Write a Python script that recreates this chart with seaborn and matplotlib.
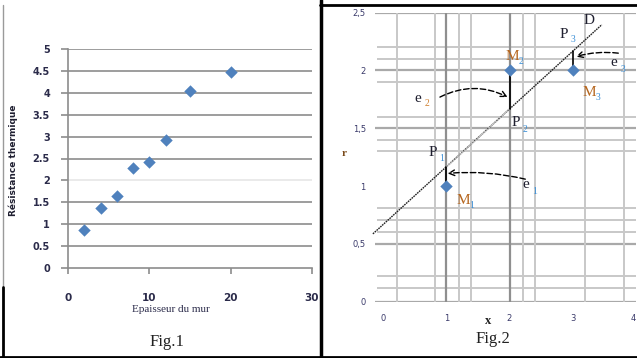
import numpy as np
import pandas as pd
import matplotlib
matplotlib.use("Agg")
import matplotlib.pyplot as plt
from matplotlib.lines import Line2D
import seaborn as sns

# ---- data -------------------------------------------------------------
thickness = [2, 4, 6, 8, 10, 12, 15, 20]
resistance = [0.87, 1.37, 1.65, 2.28, 2.43, 2.93, 4.05, 4.48]
fig1_yticks = [0, 0.5, 1, 1.5, 2, 2.5, 3, 3.5, 4, 4.5, 5]
fig1_xticks = [0, 10, 20, 30]

x_pts = [1, 2, 3]
r_pts = [1, 2, 2]
point_names = ["1", "2", "3"]
fig2_xticks = [0, 1, 2, 3, 4]
fig2_yticks = [0, 0.5, 1, 1.5, 2, 2.5]
fig2_yticklabels = ["0", "0,5", "1", "1,5", "2", "2,5"]

# hand-drawn grid of Fig.2
grid_major_y = [0, 0.5, 1.5, 2, 2.5]
grid_minor_y = [0.12, 0.22, 0.60, 0.71, 0.81, 1.30, 1.40, 1.60, 1.90, 2.10, 2.20]
grid_major_x = [1, 2]
grid_minor_x = [0.22, 0.82, 1.20, 1.39, 2.21, 2.41, 3.20, 3.81]

# ---- figure -----------------------------------------------------------
sns.set_style("white")
W, H = 637, 358
fig = plt.figure(figsize=(W / 100, H / 100), dpi=100)
fig.patch.set_facecolor("white")


def fx(px):
    return px / W


def fy(py):
    return 1 - py / H


blue = "#4f81bd"
grey = "#8c8c8c"
serif = ["Liberation Serif", "DejaVu Serif"]

# ---- Fig.1 : thermal resistance vs wall thickness ---------------------
ax1 = fig.add_axes([fx(68), fy(268), fx(312) - fx(68), fy(49) - fy(268)])
df1 = pd.DataFrame({"e": thickness, "R": resistance})
sns.scatterplot(data=df1, x="e", y="R", ax=ax1, marker="D", s=40,
                color=blue, edgecolor=blue, linewidth=0, zorder=3)
ax1.set_xlim(0, 30)
ax1.set_ylim(0, 5)
for yv in fig1_yticks[1:]:
    ax1.axhline(yv, color="#e6e6e6" if yv == 2 else grey, lw=1.2, zorder=1)
for side in ["top", "right"]:
    ax1.spines[side].set_visible(False)
for side in ["left", "bottom"]:
    ax1.spines[side].set_color(grey)
    ax1.spines[side].set_linewidth(1.2)
ax1.set_yticks(fig1_yticks)
ax1.set_yticklabels([f"{v:g}" for v in fig1_yticks])
ax1.set_xticks(fig1_xticks)
ax1.set_xticklabels([str(v) for v in fig1_xticks])
ax1.tick_params(axis="y", direction="out", length=5, width=1.2, color=grey,
                pad=8, labelsize=7, labelcolor="#2b2b4a", left=True)
ax1.tick_params(axis="x", direction="out", length=4, width=1.2, color=grey,
                pad=14, labelsize=7.5, labelcolor="#2b2b4a", bottom=True)
for t in ax1.get_xticklabels() + ax1.get_yticklabels():
    t.set_fontweight("bold")
ax1.set_xlabel("")
ax1.set_ylabel("")
fig.text(fx(171), fy(309), "Epaisseur du mur", ha="center", va="center",
         fontsize=8, family=serif, color="#2b2b4a")
fig.text(fx(13), fy(160), "Résistance thermique", ha="center", va="center",
         rotation=90, fontsize=6.5, fontweight="bold", color="#1e1e30")
fig.text(fx(167), fy(342), "Fig.1", ha="center", va="center",
         fontsize=12, family=serif, color="#222222")

# ---- Fig.2 : least-squares line and residuals -------------------------
ax2 = fig.add_axes([fx(367.2), fy(301.7), fx(636) - fx(367.2), fy(12.7) - fy(301.7)])
ax2.set_xlim(-0.25, 4.0)
ax2.set_ylim(0, 2.5)
for s in ax2.spines.values():
    s.set_visible(False)

for yv in grid_minor_y:
    ax2.hlines(yv, -0.1, 4.0, color="#c8c8c8", lw=1.4, zorder=1)
for yv in grid_major_y:
    ax2.hlines(yv, -0.12, 4.0, color="#a9a9a9", lw=1.6, zorder=1)
for xv in grid_minor_x:
    ax2.vlines(xv, 0, 2.5, color="#c8c8c8", lw=1.4, zorder=1)
for xv in grid_major_x:
    ax2.vlines(xv, -0.03, 2.5, color="#8f8f8f", lw=1.6, zorder=1)

# regression line D
slope, intercept = np.polyfit(x_pts, r_pts, 1)
xs = np.linspace(-0.16, 3.46, 200)
ax2.plot(xs, slope * xs + intercept, color="#222222", lw=1.0,
         linestyle=(0, (1.2, 0.6)), zorder=2, clip_on=False)
xm = np.linspace(1.0, 2.0, 60)
ax2.plot(xm, slope * xm + intercept, color="#bdbdbd", lw=1.2,
         linestyle=(0, (1.2, 0.6)), zorder=2)

# residual segments
for xv, rv in zip(x_pts, r_pts):
    ax2.plot([xv, xv], [rv, slope * xv + intercept], color="black", lw=1.2, zorder=3)

df2 = pd.DataFrame({"x": x_pts, "r": r_pts})
sns.scatterplot(data=df2, x="x", y="r", ax=ax2, marker="D", s=40,
                color=blue, edgecolor=blue, linewidth=0, zorder=4)
ax2.set_xlabel("")
ax2.set_ylabel("")
ax2.set_xticks(fig2_xticks)
ax2.set_xticklabels([str(v) for v in fig2_xticks])
ax2.set_yticks(fig2_yticks)
ax2.set_yticklabels(fig2_yticklabels)
ax2.tick_params(axis="both", length=0, labelsize=6, labelcolor="#3a3a6a")
ax2.tick_params(axis="x", pad=9)
ax2.tick_params(axis="y", pad=1)
ax2.get_xticklabels()[-1].set_horizontalalignment("right")

# point / projection labels
mcol, scol, pcol = "#b5651d", "#3b8fd6", "#1f1f2f"


def label(px, py, base, sub, bcol, subcol, size=11):
    fig.text(fx(px), fy(py), base, ha="center", va="center",
             fontsize=size, family=serif, color=bcol)
    fig.text(fx(px + 9), fy(py + 6), sub, ha="center", va="center",
             fontsize=7, family=serif, color=subcol)


label(463, 200, "M", point_names[0], mcol, scol)
label(512, 56, "M", point_names[1], mcol, scol)
label(589, 92, "M", point_names[2], mcol, scol)
label(433, 153, "P", "1", pcol, scol)
label(516, 123, "P", "2", pcol, scol)
label(564, 34, "P", "3", pcol, scol)
label(526, 185, "e", "1", pcol, scol)
label(418, 98, "e", "2", pcol, "#d08030")
label(614, 63, "e", "3", pcol, scol)
fig.text(fx(589), fy(21), "D", ha="center", va="center", fontsize=11,
         family=serif, color=pcol)

# residual arrows
arrow_kw = dict(arrowstyle="->", color="black", lw=1.0, linestyle=(0, (4, 2)),
                shrinkA=0, shrinkB=0)
ax2.annotate("", xy=(1.02, 1.11), xytext=(2.25, 1.06),
             arrowprops=dict(connectionstyle="arc3,rad=0.08", **arrow_kw))
ax2.annotate("", xy=(1.97, 1.77), xytext=(0.9, 1.77),
             arrowprops=dict(connectionstyle="arc3,rad=-0.25", **arrow_kw))
ax2.annotate("", xy=(3.05, 2.12), xytext=(3.72, 2.15),
             arrowprops=dict(connectionstyle="arc3,rad=0.1", **arrow_kw))

fig.text(fx(344), fy(153), "r", ha="center", va="center", fontsize=8,
         family=serif, color="#7a4a1a", fontweight="bold")
fig.text(fx(488), fy(321), "x", ha="center", va="center", fontsize=9,
         family=serif, color="#222222", fontweight="bold")
fig.text(fx(493), fy(339), "Fig.2", ha="center", va="center",
         fontsize=12, family=serif, color="#222222")

# frames around the two figures
frame = [
    ([3, 3], [5, 287], "#9a9a9a", 1.0),
    ([3, 3], [287, 358], "black", 2.0),
    ([0, 637], [356.5, 356.5], "black", 2.0),
    ([321, 321], [0, 358], "black", 2.5),
    ([320, 637], [4.5, 4.5], "black", 2.0),
]
for xsq, ysq, c, lw in frame:
    fig.add_artist(Line2D([fx(v) for v in xsq], [fy(v) for v in ysq],
                          color=c, lw=lw, transform=fig.transFigure))

fig.savefig("out.png", dpi=100)
